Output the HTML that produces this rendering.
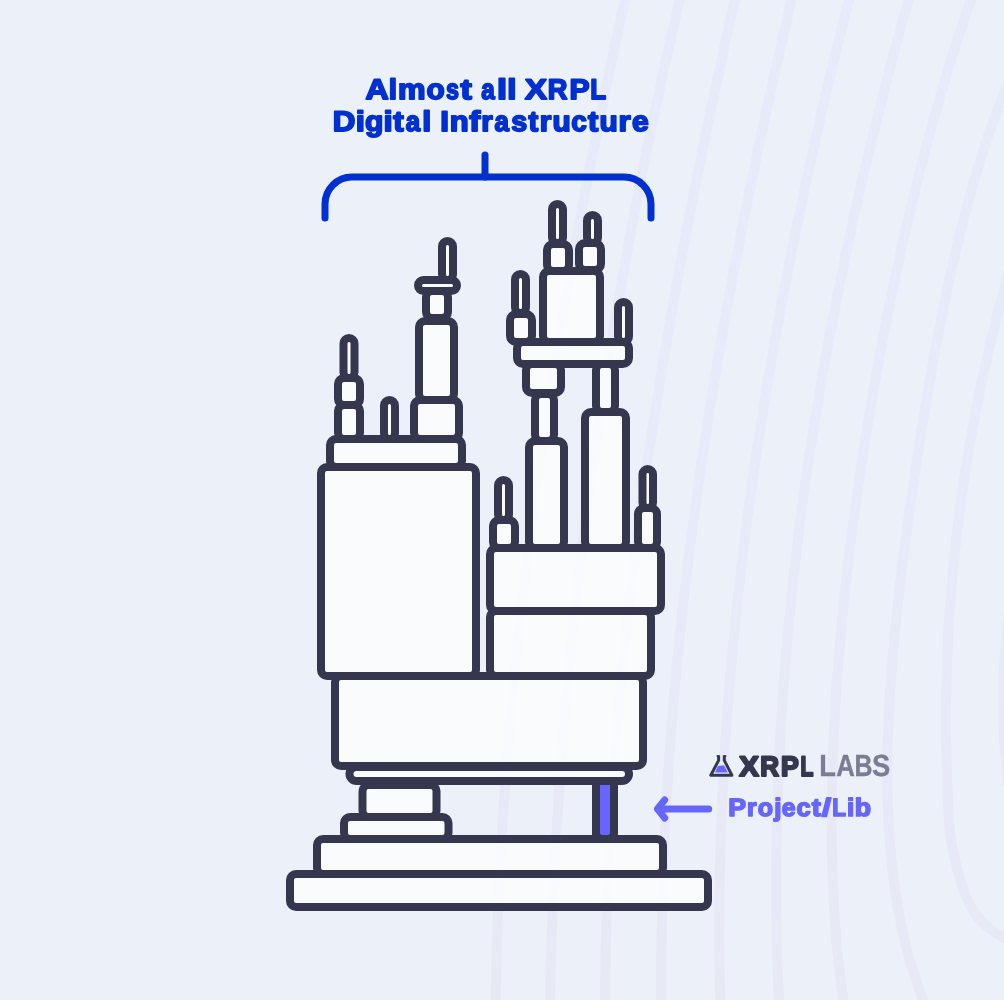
<!DOCTYPE html>
<html lang="en">
<head>
<meta charset="utf-8">
<title>Almost all XRPL Digital Infrastructure</title>
<style>
html,body{margin:0;padding:0;background:#ecf0f8;}
body{width:1004px;height:1000px;overflow:hidden;}
svg{display:block;}
text{font-family:"Liberation Sans",sans-serif;text-rendering:geometricPrecision;}
</style>
</head>
<body>
<svg width="1004" height="1000" viewBox="0 0 1004 1000">
<rect width="1004" height="1000" fill="#ecf0f8"/>
<defs><linearGradient id="sg" gradientUnits="userSpaceOnUse" x1="0" y1="0" x2="0" y2="1000"><stop offset="0" stop-color="#e7eaf9"/><stop offset="0.5" stop-color="#e7eaf8"/><stop offset="1" stop-color="#e7e9f5"/></linearGradient></defs>
<g fill="none" stroke="url(#sg)" stroke-width="10" stroke-linecap="butt">
<path d="M629.3,-20.0 C626.3,-6.7 617.5,33.3 611.8,60.0 C606.2,86.7 600.7,113.3 595.3,140.0 C590.0,166.7 584.9,193.3 579.9,220.0 C574.9,246.7 570.1,273.3 565.5,300.0 C560.9,326.7 556.5,353.3 552.3,380.0 C548.0,406.7 544.0,433.3 540.2,460.0 C536.4,486.7 532.8,513.3 529.4,540.0 C526.1,566.7 522.9,593.3 520.0,620.0 C517.1,646.7 514.4,673.3 512.0,700.0 C509.6,726.7 507.4,753.3 505.5,780.0 C503.5,806.7 501.8,833.3 500.4,860.0 C499.0,886.7 497.9,913.3 497.0,940.0 C496.2,966.7 495.6,1006.7 495.3,1020.0"/>
<path d="M684.4,-20.0 C681.3,-6.7 671.9,33.3 666.0,60.0 C660.1,86.7 654.4,113.3 648.9,140.0 C643.4,166.7 638.1,193.3 633.1,220.0 C628.0,246.7 623.2,273.3 618.6,300.0 C613.9,326.7 609.5,353.3 605.4,380.0 C601.2,406.7 597.3,433.3 593.5,460.0 C589.8,486.7 586.3,513.3 583.0,540.0 C579.8,566.7 576.7,593.3 573.9,620.0 C571.1,646.7 568.5,673.3 566.2,700.0 C563.8,726.7 561.7,753.3 559.9,780.0 C558.0,806.7 556.4,833.3 555.0,860.0 C553.6,886.7 552.4,913.3 551.5,940.0 C550.6,966.7 549.8,1006.7 549.5,1020.0"/>
<path d="M739.3,-20.0 C736.3,-6.7 727.2,33.3 721.5,60.0 C715.7,86.7 710.0,113.3 704.6,140.0 C699.1,166.7 693.8,193.3 688.6,220.0 C683.5,246.7 678.6,273.3 673.8,300.0 C669.1,326.7 664.5,353.3 660.2,380.0 C655.8,406.7 651.7,433.3 647.8,460.0 C643.9,486.7 640.2,513.3 636.8,540.0 C633.4,566.7 630.2,593.3 627.3,620.0 C624.4,646.7 621.7,673.3 619.3,700.0 C617.0,726.7 614.9,753.3 613.1,780.0 C611.3,806.7 609.7,833.3 608.6,860.0 C607.4,886.7 606.5,913.3 605.9,940.0 C605.4,966.7 605.4,1006.7 605.2,1020.0"/>
<path d="M796.2,-20.0 C793.1,-6.7 783.7,33.3 777.7,60.0 C771.6,86.7 765.8,113.3 760.1,140.0 C754.5,166.7 749.0,193.3 743.7,220.0 C738.4,246.7 733.3,273.3 728.4,300.0 C723.6,326.7 718.9,353.3 714.5,380.0 C710.1,406.7 705.9,433.3 701.9,460.0 C698.0,486.7 694.3,513.3 690.9,540.0 C687.5,566.7 684.3,593.3 681.4,620.0 C678.6,646.7 676.0,673.3 673.7,700.0 C671.4,726.7 669.4,753.3 667.7,780.0 C666.0,806.7 664.7,833.3 663.6,860.0 C662.6,886.7 661.9,913.3 661.6,940.0 C661.2,966.7 661.6,1006.7 661.6,1020.0"/>
<path d="M853.8,-20.0 C850.5,-6.7 840.3,33.3 833.9,60.0 C827.5,86.7 821.3,113.3 815.4,140.0 C809.4,166.7 803.6,193.3 798.1,220.0 C792.6,246.7 787.3,273.3 782.3,300.0 C777.3,326.7 772.6,353.3 768.1,380.0 C763.6,406.7 759.4,433.3 755.5,460.0 C751.5,486.7 747.9,513.3 744.6,540.0 C741.2,566.7 738.2,593.3 735.5,620.0 C732.8,646.7 730.4,673.3 728.3,700.0 C726.3,726.7 724.5,753.3 723.1,780.0 C721.8,806.7 720.7,833.3 720.1,860.0 C719.4,886.7 719.1,913.3 719.2,940.0 C719.3,966.7 720.4,1006.7 720.6,1020.0"/>
<path d="M914.1,-20.0 C910.4,-6.7 899.1,33.3 892.1,60.0 C885.1,86.7 878.3,113.3 871.8,140.0 C865.3,166.7 859.1,193.3 853.2,220.0 C847.4,246.7 841.8,273.3 836.5,300.0 C831.2,326.7 826.3,353.3 821.6,380.0 C817.0,406.7 812.7,433.3 808.7,460.0 C804.8,486.7 801.1,513.3 797.9,540.0 C794.6,566.7 791.7,593.3 789.1,620.0 C786.6,646.7 784.4,673.3 782.6,700.0 C780.7,726.7 779.3,753.3 778.3,780.0 C777.2,806.7 776.5,833.3 776.3,860.0 C776.0,886.7 776.2,913.3 776.7,940.0 C777.3,966.7 779.2,1006.7 779.7,1020.0"/>
<path d="M977.7,-20.0 C973.2,-6.7 959.3,33.3 951.0,60.0 C942.7,86.7 935.2,113.3 928.0,140.0 C920.8,166.7 914.2,193.3 908.0,220.0 C901.7,246.7 896.0,273.3 890.5,300.0 C885.1,326.7 880.0,353.3 875.3,380.0 C870.5,406.7 866.2,433.3 862.1,460.0 C858.1,486.7 854.3,513.3 851.0,540.0 C847.6,566.7 844.6,593.3 842.1,620.0 C839.5,646.7 837.3,673.3 835.6,700.0 C833.9,726.7 832.7,753.3 832.1,780.0 C831.5,806.7 831.3,833.3 832.1,860.0 C832.8,886.7 834.0,913.3 836.3,940.0 C838.6,966.7 844.1,1006.7 845.7,1020.0"/>
<path d="M1017.6,60.0 C1013.4,70.7 999.8,102.7 992.2,124.0 C984.6,145.3 978.1,166.7 972.0,188.0 C965.9,209.3 960.6,230.7 955.6,252.0 C950.6,273.3 946.1,294.7 941.8,316.0 C937.6,337.3 933.7,358.7 930.0,380.0 C926.2,401.3 922.7,422.7 919.4,444.0 C916.1,465.3 912.9,486.7 909.9,508.0 C907.0,529.3 904.1,550.7 901.6,572.0 C899.0,593.3 896.6,614.7 894.6,636.0 C892.6,657.3 890.8,678.7 889.6,700.0 C888.4,721.3 887.4,742.7 887.3,764.0 C887.2,785.3 887.5,806.7 888.8,828.0 C890.2,849.3 892.1,870.7 895.4,892.0 C898.7,913.3 902.8,934.7 908.6,956.0 C914.4,977.3 926.6,1009.3 930.2,1020.0"/>
<path d="M1030.3,200.0 C1026.8,211.7 1015.7,246.7 1009.2,270.0 C1002.6,293.3 996.6,316.7 991.1,340.0 C985.5,363.3 980.5,386.7 976.0,410.0 C971.5,433.3 967.5,456.7 964.0,480.0 C960.5,503.3 957.5,526.7 955.0,550.0 C952.5,573.3 950.6,596.7 949.1,620.0 C947.7,643.3 946.7,666.7 946.3,690.0 C945.8,713.3 945.9,736.7 946.5,760.0 C947.1,783.3 947.9,811.7 949.8,830.0 C951.6,848.3 954.3,857.8 957.5,870.0 C960.7,882.2 964.6,894.0 969.0,903.0 C973.4,912.0 978.2,918.2 984.0,924.0 C989.8,929.8 996.3,933.8 1004.0,938.0 C1011.7,942.2 1025.7,947.2 1030.0,949.0"/>
<path d="M1012,585 C1005,640 1003,670 1003,700 C1003,730 1005,765 1012,810"/>
</g>
<g>
<rect x="290" y="874" width="418" height="33" rx="6" fill="rgba(255,255,255,0.75)" stroke="#35374f" stroke-width="8"/>
<rect x="317" y="839" width="346" height="35" rx="6" fill="rgba(255,255,255,0.75)" stroke="#35374f" stroke-width="8"/>
<rect x="344" y="817" width="104.5" height="22" rx="6" fill="rgba(255,255,255,0.75)" stroke="#35374f" stroke-width="8"/>
<rect x="362.5" y="785" width="74.0" height="32" rx="6" fill="rgba(255,255,255,0.75)" stroke="#35374f" stroke-width="8"/>
<rect x="349.5" y="767" width="279.5" height="14" rx="7" fill="rgba(255,255,255,0.75)" stroke="#35374f" stroke-width="8"/>
<rect x="335" y="676" width="308" height="90" rx="6" fill="rgba(255,255,255,0.75)" stroke="#35374f" stroke-width="8"/>
<rect x="321" y="467" width="155" height="209" rx="6" fill="rgba(255,255,255,0.75)" stroke="#35374f" stroke-width="8"/>
<rect x="330" y="439" width="132" height="28" rx="6" fill="rgba(255,255,255,0.75)" stroke="#35374f" stroke-width="8"/>
<rect x="490" y="611" width="161" height="65" rx="6" fill="rgba(255,255,255,0.75)" stroke="#35374f" stroke-width="8"/>
<rect x="490" y="548" width="171" height="63" rx="6" fill="rgba(255,255,255,0.75)" stroke="#35374f" stroke-width="8"/>
<rect x="338" y="405" width="22" height="34" rx="6" fill="rgba(255,255,255,0.75)" stroke="#35374f" stroke-width="8"/>
<rect x="338" y="378" width="22" height="27" rx="6" fill="rgba(255,255,255,0.75)" stroke="#35374f" stroke-width="8"/>
<rect x="343.5" y="338" width="11.0" height="40" rx="5.5" fill="rgba(255,255,255,0.75)" stroke="#35374f" stroke-width="8"/>
<rect x="384" y="400" width="11" height="39" rx="5.5" fill="rgba(255,255,255,0.75)" stroke="#35374f" stroke-width="8"/>
<rect x="414" y="400" width="45" height="39" rx="6" fill="rgba(255,255,255,0.75)" stroke="#35374f" stroke-width="8"/>
<rect x="419" y="321" width="35" height="79" rx="6" fill="rgba(255,255,255,0.75)" stroke="#35374f" stroke-width="8"/>
<rect x="426" y="291" width="22" height="27" rx="6" fill="rgba(255,255,255,0.75)" stroke="#35374f" stroke-width="8"/>
<rect x="418" y="280" width="39" height="11" rx="5.5" fill="rgba(255,255,255,0.75)" stroke="#35374f" stroke-width="8"/>
<rect x="442" y="241" width="11" height="39" rx="5.5" fill="rgba(255,255,255,0.75)" stroke="#35374f" stroke-width="8"/>
<rect x="493" y="520" width="22" height="28" rx="6" fill="rgba(255,255,255,0.75)" stroke="#35374f" stroke-width="8"/>
<rect x="498" y="480" width="11" height="40" rx="5.5" fill="rgba(255,255,255,0.75)" stroke="#35374f" stroke-width="8"/>
<rect x="529" y="441" width="35" height="107" rx="6" fill="rgba(255,255,255,0.75)" stroke="#35374f" stroke-width="8"/>
<rect x="585" y="412" width="41" height="136" rx="6" fill="rgba(255,255,255,0.75)" stroke="#35374f" stroke-width="8"/>
<rect x="638" y="508" width="19" height="40" rx="6" fill="rgba(255,255,255,0.75)" stroke="#35374f" stroke-width="8"/>
<rect x="642.5" y="469" width="10.5" height="39" rx="5.25" fill="rgba(255,255,255,0.75)" stroke="#35374f" stroke-width="8"/>
<rect x="535" y="394" width="19" height="47" rx="6" fill="rgba(255,255,255,0.75)" stroke="#35374f" stroke-width="8"/>
<rect x="526" y="364" width="35" height="29" rx="6" fill="rgba(255,255,255,0.75)" stroke="#35374f" stroke-width="8"/>
<rect x="596" y="364" width="19" height="48" rx="6" fill="rgba(255,255,255,0.75)" stroke="#35374f" stroke-width="8"/>
<rect x="517" y="342" width="112" height="22" rx="6" fill="rgba(255,255,255,0.75)" stroke="#35374f" stroke-width="8"/>
<rect x="543" y="271" width="57" height="71" rx="6" fill="rgba(255,255,255,0.75)" stroke="#35374f" stroke-width="8"/>
<rect x="547" y="244" width="22" height="27" rx="6" fill="rgba(255,255,255,0.75)" stroke="#35374f" stroke-width="8"/>
<rect x="552" y="204" width="11" height="39" rx="5.5" fill="rgba(255,255,255,0.75)" stroke="#35374f" stroke-width="8"/>
<rect x="579" y="243" width="22" height="27" rx="6" fill="rgba(255,255,255,0.75)" stroke="#35374f" stroke-width="8"/>
<rect x="587" y="215" width="11" height="28" rx="5.5" fill="rgba(255,255,255,0.75)" stroke="#35374f" stroke-width="8"/>
<rect x="510" y="314" width="22" height="28" rx="6" fill="rgba(255,255,255,0.75)" stroke="#35374f" stroke-width="8"/>
<rect x="515" y="274" width="11" height="39" rx="5.5" fill="rgba(255,255,255,0.75)" stroke="#35374f" stroke-width="8"/>
<rect x="618" y="302" width="11" height="40" rx="5.5" fill="rgba(255,255,255,0.75)" stroke="#35374f" stroke-width="8"/>
<rect x="592" y="781" width="26" height="56" fill="#35374f"/>
<path d="M600,785 H610 V832.5 a2.5,2.5 0 0 1 -2.5,2.5 H602.5 a2.5,2.5 0 0 1 -2.5,-2.5 Z" fill="#6666ff"/>
</g>
<g fill="none" stroke="#0030cf" stroke-width="7" stroke-linecap="round" stroke-linejoin="round"><path d="M325,218 V204 a27,27 0 0 1 27,-27 H624 a27,27 0 0 1 27,27 V218"/><path d="M485,155 V177"/></g>
<g fill="none" stroke="#6666ff" stroke-width="7" stroke-linecap="round" stroke-linejoin="round"><path d="M708.7,808.9 H658"/><path d="M664.7,800 L657.4,808.9 L664.7,818"/></g>
<defs><filter id="gs" filterUnits="userSpaceOnUse" x="0" y="0" width="1004" height="1000" color-interpolation-filters="sRGB"><feOffset dx="0" dy="0"/></filter></defs>
<g filter="url(#gs)">
<text y="99.00" font-size="28.41" font-weight="700" fill="#0030cf" stroke="#0030cf" stroke-width="1.8" stroke-linejoin="round" transform="rotate(0.02 486 99)"><tspan x="365.61" textLength="23.23" lengthAdjust="spacingAndGlyphs">A</tspan><tspan x="388.79" textLength="8.29" lengthAdjust="spacingAndGlyphs">l</tspan><tspan x="398.06" textLength="27.52" lengthAdjust="spacingAndGlyphs">m</tspan><tspan x="426.45" textLength="18.20" lengthAdjust="spacingAndGlyphs">o</tspan><tspan x="446.08" textLength="13.02" lengthAdjust="spacingAndGlyphs">s</tspan><tspan x="460.50" textLength="11.32" lengthAdjust="spacingAndGlyphs">t</tspan> <tspan x="481.22" textLength="13.50" lengthAdjust="spacingAndGlyphs">a</tspan><tspan x="496.91" textLength="10.06" lengthAdjust="spacingAndGlyphs">l</tspan><tspan x="507.33" textLength="9.21" lengthAdjust="spacingAndGlyphs">l</tspan> <tspan x="524.91" textLength="21.87" lengthAdjust="spacingAndGlyphs">X</tspan><tspan x="547.82" textLength="19.69" lengthAdjust="spacingAndGlyphs">R</tspan><tspan x="569.46" textLength="20.08" lengthAdjust="spacingAndGlyphs">P</tspan><tspan x="590.25" textLength="15.88" lengthAdjust="spacingAndGlyphs">L</tspan></text>
<text y="131.00" font-size="28.41" font-weight="700" fill="#0030cf" stroke="#0030cf" stroke-width="1.8" stroke-linejoin="round" transform="rotate(0.02 491 131)"><tspan x="332.66" textLength="22.57" lengthAdjust="spacingAndGlyphs">D</tspan><tspan x="355.68" textLength="9.17" lengthAdjust="spacingAndGlyphs">i</tspan><tspan x="364.99" textLength="18.39" lengthAdjust="spacingAndGlyphs">g</tspan><tspan x="383.51" textLength="9.22" lengthAdjust="spacingAndGlyphs">i</tspan><tspan x="393.35" textLength="10.44" lengthAdjust="spacingAndGlyphs">t</tspan><tspan x="405.82" textLength="14.39" lengthAdjust="spacingAndGlyphs">a</tspan><tspan x="422.29" textLength="9.00" lengthAdjust="spacingAndGlyphs">l</tspan> <tspan x="440.27" textLength="8.71" lengthAdjust="spacingAndGlyphs">I</tspan><tspan x="449.78" textLength="18.91" lengthAdjust="spacingAndGlyphs">n</tspan><tspan x="469.24" textLength="11.05" lengthAdjust="spacingAndGlyphs">f</tspan><tspan x="481.36" textLength="11.44" lengthAdjust="spacingAndGlyphs">r</tspan><tspan x="494.39" textLength="14.44" lengthAdjust="spacingAndGlyphs">a</tspan><tspan x="511.19" textLength="15.99" lengthAdjust="spacingAndGlyphs">s</tspan><tspan x="528.40" textLength="9.73" lengthAdjust="spacingAndGlyphs">t</tspan><tspan x="539.78" textLength="11.56" lengthAdjust="spacingAndGlyphs">r</tspan><tspan x="552.51" textLength="18.22" lengthAdjust="spacingAndGlyphs">u</tspan><tspan x="571.24" textLength="15.55" lengthAdjust="spacingAndGlyphs">c</tspan><tspan x="587.96" textLength="10.27" lengthAdjust="spacingAndGlyphs">t</tspan><tspan x="599.59" textLength="18.22" lengthAdjust="spacingAndGlyphs">u</tspan><tspan x="618.63" textLength="12.15" lengthAdjust="spacingAndGlyphs">r</tspan><tspan x="632.07" textLength="16.76" lengthAdjust="spacingAndGlyphs">e</tspan></text>
<text y="775.60" font-size="28.12" font-weight="700" fill="#35374f" stroke="#35374f" stroke-width="2.2" stroke-linejoin="round" transform="rotate(0.02 776 776)"><tspan x="739.17" textLength="19.63" lengthAdjust="spacingAndGlyphs">X</tspan><tspan x="760.14" textLength="18.84" lengthAdjust="spacingAndGlyphs">R</tspan><tspan x="781.05" textLength="17.80" lengthAdjust="spacingAndGlyphs">P</tspan><tspan x="800.59" textLength="12.86" lengthAdjust="spacingAndGlyphs">L</tspan></text>
<text y="776.20" font-size="30.43" font-weight="700" fill="#7b7d94" stroke="#7b7d94" stroke-width="0.4" stroke-linejoin="round" transform="rotate(0.02 855 776)"><tspan x="819.25" textLength="16.62" lengthAdjust="spacingAndGlyphs">L</tspan><tspan x="836.33" textLength="18.62" lengthAdjust="spacingAndGlyphs">A</tspan><tspan x="854.41" textLength="17.96" lengthAdjust="spacingAndGlyphs">B</tspan><tspan x="871.90" textLength="18.22" lengthAdjust="spacingAndGlyphs">S</tspan></text>
<text y="816.10" font-size="25.07" font-weight="700" fill="#6666ff" stroke="#6666ff" stroke-width="1.6" stroke-linejoin="round" transform="rotate(0.02 800 816)"><tspan x="728.34" textLength="17.79" lengthAdjust="spacingAndGlyphs">P</tspan><tspan x="747.05" textLength="9.58" lengthAdjust="spacingAndGlyphs">r</tspan><tspan x="757.66" textLength="15.31" lengthAdjust="spacingAndGlyphs">o</tspan><tspan x="774.25" textLength="7.21" lengthAdjust="spacingAndGlyphs">j</tspan><tspan x="781.79" textLength="13.73" lengthAdjust="spacingAndGlyphs">e</tspan><tspan x="796.64" textLength="14.13" lengthAdjust="spacingAndGlyphs">c</tspan><tspan x="811.71" textLength="9.16" lengthAdjust="spacingAndGlyphs">t</tspan><tspan x="822.07" textLength="9.01" lengthAdjust="spacingAndGlyphs">/</tspan><tspan x="832.13" textLength="13.77" lengthAdjust="spacingAndGlyphs">L</tspan><tspan x="847.14" textLength="7.28" lengthAdjust="spacingAndGlyphs">i</tspan><tspan x="854.89" textLength="16.32" lengthAdjust="spacingAndGlyphs">b</tspan></text>
</g>
<g fill="none" stroke="#35374f" stroke-width="3" stroke-linejoin="round" stroke-linecap="butt"><path d="M718.6,755.2 V760.4 L710.8,775.2 H731.9 L724.3,760.4 V755.2"/><path d="M716.6,756 H719 M723.9,756 H726.3" stroke-width="1.6"/></g>
<path d="M717.9,766.1 L723.9,765.2 L727.9,772.6 H714.9 Z" fill="#6666ff"/>
</svg>
</body>
</html>
